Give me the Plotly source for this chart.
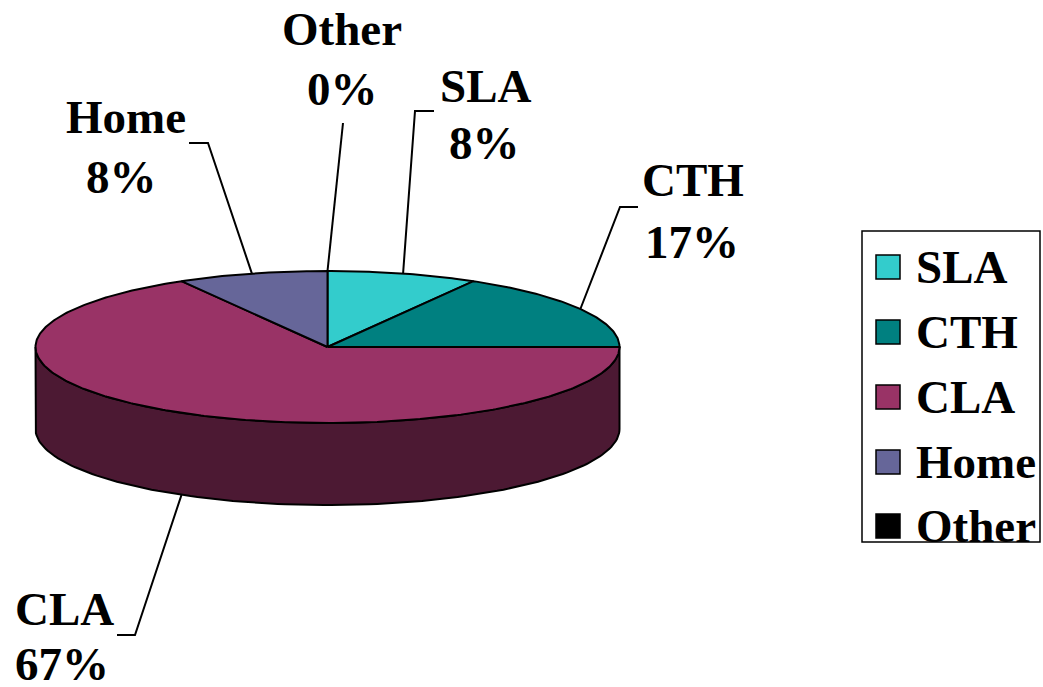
import numpy as np
import plotly.graph_objects as go

# Data
categories = ["SLA", "CTH", "CLA", "Home", "Other"]
counts = [1, 2, 8, 1, 0]
colors = ["#33CCCC", "#008080", "#993366", "#666699", "#000000"]

# Pie geometry in pixel coordinates (screen y grows downward)
W, H = 1043, 687
CX, CY = 327.5, 347.0
RX, RY = 292.0, 76.0
DEPTH = 82.0

# Label placement: name centre, percent centre, leader elbow and leader tail
label_pos = {
    "Other": dict(nx=342, ny=29, px=342, py=89, knee=(343, 123), tail=(343, 123)),
    "SLA": dict(nx=485, ny=86, px=484, py=143, knee=(415, 111), tail=(434, 111)),
    "CTH": dict(nx=693, ny=180, px=692, py=242, knee=(620, 207), tail=(638, 207)),
    "CLA": dict(nx=64, ny=609, px=62, py=664, knee=(135, 635), tail=(117, 635)),
    "Home": dict(nx=126, ny=117, px=121, py=177, knee=(208, 143), tail=(189, 143)),
}

FONT = "Liberation Serif, Times New Roman, serif"
FS = 47


def darken(hex_color, f=0.5):
    h = hex_color.lstrip("#")
    r, g, b = (int(h[i:i + 2], 16) for i in (0, 2, 4))
    return "#%02X%02X%02X" % (int(r * f), int(g * f), int(b * f))


def ell(theta_deg, drop=0.0):
    t = np.radians(theta_deg)
    return CX + RX * np.sin(t), CY - RY * np.cos(t) + drop


total = sum(counts)
fracs = [c / total for c in counts]
starts = np.concatenate([[0.0], np.cumsum(fracs)[:-1]]) * 360.0
ends = starts + np.array(fracs) * 360.0

fig = go.Figure()

# Side walls (front half of the cylinder, angles 90..270 clockwise from top)
for cat, a0, a1, col in zip(categories, starts, ends, colors):
    lo, hi = max(a0, 90.0), min(a1, 270.0)
    if hi <= lo:
        continue
    th = np.linspace(lo, hi, 120)
    xt, yt = ell(th)
    xb, yb = ell(th[::-1], DEPTH)
    xs = np.concatenate([xt, xb, xt[:1]])
    ys = np.concatenate([yt, yb, yt[:1]])
    fig.add_trace(go.Scatter(x=xs, y=ys, mode="lines", fill="toself",
                             fillcolor=darken(col), line=dict(color="black", width=2),
                             hoverinfo="skip", showlegend=False))

# Top faces
for cat, a0, a1, col in zip(categories, starts, ends, colors):
    if a1 - a0 <= 0:
        continue
    th = np.linspace(a0, a1, max(int((a1 - a0) * 1.5), 10))
    xa, ya = ell(th)
    xs = np.concatenate([[CX], xa, [CX]])
    ys = np.concatenate([[CY], ya, [CY]])
    fig.add_trace(go.Scatter(x=xs, y=ys, mode="lines", fill="toself",
                             fillcolor=col, line=dict(color="black", width=2),
                             hoverinfo="skip", showlegend=False))

# Leader lines and data labels
annotations = []
for cat, a0, a1, c in zip(categories, starts, ends, counts):
    mid = (a0 + a1) / 2.0
    front = 90.0 < mid < 270.0
    ex, ey = ell(mid, DEPTH if front else 0.0)
    p = label_pos[cat]
    fig.add_trace(go.Scatter(x=[p["tail"][0], p["knee"][0], ex],
                             y=[p["tail"][1], p["knee"][1], ey],
                             mode="lines", line=dict(color="black", width=2),
                             hoverinfo="skip", showlegend=False))
    pct = f"{round(c / total * 100)}%"
    for txt, tx, ty in ((cat, p["nx"], p["ny"]), (pct, p["px"], p["py"])):
        annotations.append(dict(x=tx, y=ty, xref="x", yref="y", text=f"<b>{txt}</b>",
                                showarrow=False, xanchor="center", yanchor="middle",
                                font=dict(family=FONT, size=FS, color="black", weight="bold")))

# Legend
leg_y = [267, 332, 397, 462, 526]
fig.add_trace(go.Scatter(x=[888] * len(categories), y=leg_y, mode="markers",
                         marker=dict(symbol="square", size=24, color=colors,
                                     line=dict(color="black", width=1.5)),
                         hoverinfo="skip", showlegend=False))
for cat, yy in zip(categories, leg_y):
    annotations.append(dict(x=914, y=yy, xref="x", yref="y", text=f"<b>{cat}</b>",
                            showarrow=False, xanchor="left", yanchor="middle",
                            font=dict(family=FONT, size=FS, color="black", weight="bold")))

fig.update_layout(
    width=W, height=H,
    margin=dict(l=0, r=0, t=0, b=0),
    paper_bgcolor="white", plot_bgcolor="white",
    xaxis=dict(range=[0, W], visible=False, fixedrange=True),
    yaxis=dict(range=[H, 0], visible=False, fixedrange=True),
    annotations=annotations,
    shapes=[dict(type="rect", xref="x", yref="y", x0=862, x1=1040, y0=231, y1=542,
                 line=dict(color="black", width=1.5), fillcolor="rgba(0,0,0,0)")],
    showlegend=False,
)

fig.write_html("out.html")
